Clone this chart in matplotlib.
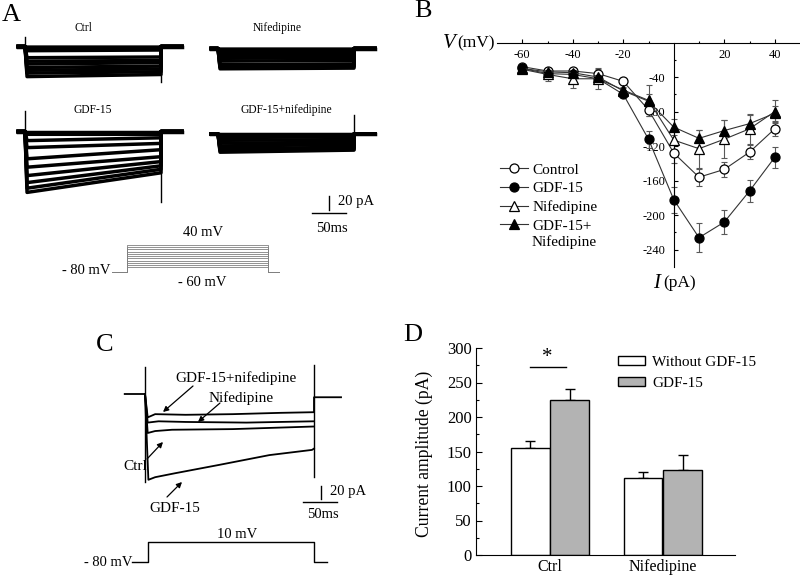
import numpy as np
import matplotlib
matplotlib.use("Agg")
import matplotlib.pyplot as plt
import matplotlib.transforms as mtransforms

plt.rcParams['font.family'] = ['Liberation Serif', 'DejaVu Serif']
plt.rcParams['axes.unicode_minus'] = False

W, H = 800, 579

# --- A: current families, one amplitude per test step (pA, inward negative)
step_mv = [-60, -50, -40, -30, -20, -10, 0, 10, 20, 30, 40]
holding_mv = -80
pulse_a_ms = 200
ctrl_on = [0, -1, -3, -6, -16, -25, -34, -43, -38, -30, -21]
ctrl_off = [0, -1, -3, -5, -15, -23, -32, -40, -36, -28, -20]
nif_on = [0, -1, -3, -6, -10, -14, -18, -23, -27, -29, -26]
nif_off = [0, -1, -3, -6, -10, -13, -17, -22, -26, -28, -25]
gdf_on = [0, -2, -4, -13, -23, -39, -63, -87, -81, -73, -51]
gdf_off = [0, -2, -4, -9, -17, -26, -43, -59, -54, -49, -36]
gdfnif_on = [0, -1, -2, -5, -9, -13, -17, -21, -24, -26, -22]
gdfnif_off = [0, -1, -2, -4, -8, -12, -15, -19, -22, -23, -20]
# capacitive artifacts at pulse on / off (pA)
ctrl_spk = (14, -51)
nif_spk = (0, 0)
gdf_spk = (30, -100)
gdfnif_spk = (0, 27)

# --- B: I-V relation
iv_mv = [-60, -50, -40, -30, -20, -10, 0, 10, 20, 30, 40]
iv_ctrl = [-28, -33, -33, -36, -45, -78, -128, -156, -147, -127, -100]
iv_ctrl_err = [2, 3, 4, 5, 3, 7, 12, 10, 8.5, 8, 8.5]
iv_gdf = [-30, -36, -37, -42, -60, -112, -182, -226, -208, -172, -133]
iv_gdf_err = [2, 3, 3, 3, 3, 10, 15, 17, 14, 13, 12]
iv_nif = [-31, -37, -42, -42, -55, -67, -113, -123, -112, -100, -80]
iv_nif_err = [2, 8, 11, 12, 3, 18, 12, 22, 22, 17, 13]
iv_gdfnif = [-30, -34, -35, -40, -56, -68, -98, -111, -102, -94, -82]
iv_gdfnif_err = [2, 3, 3, 4, 3, 8, 9, 10, 12, 10, 9]

# --- C: single traces at 10 mV (ms, pA)
pulse_c_ms = 250
test_c_mv = 10
c_t_gdfnif = [-30, 0, 4, 15, 60, 130, 200, 250, 250, 290]
c_i_gdfnif = [0, 0, -36, -31, -32, -31, -29, -28, -5, -5]
c_t_nif = [0, 4, 20, 60, 150, 250]
c_i_nif = [0, -44, -42, -43, -44, -42]
c_t_ctrl = [0, 4, 15, 40, 130, 250]
c_i_ctrl = [0, -60, -57, -55, -54, -50]
c_t_gdf = [0, 5, 15, 44, 110, 184, 247, 250]
c_i_gdf = [0, -132, -128, -122, -109, -94, -86, -84]
c_spk_on = (42, -135)
c_spk_off = (45, -128)

# --- D: current amplitude
groups = ["Ctrl", "Nifedipine"]
amp_without = [155, 111]
amp_without_err = [10, 9]
amp_gdf = [225, 123]
amp_gdf_err = [16, 22]
sig_height = 272

fig = plt.figure(figsize=(W / 100, H / 100), dpi=100)
canvas = fig.add_axes([0, 0, 1, 1])
canvas.set_xlim(0, W)
canvas.set_ylim(H, 0)
canvas.axis("off")


def px_rect(x0, y0, x1, y1):
    return [x0 / W, 1 - y1 / H, (x1 - x0) / W, (y1 - y0) / H]


def scaled(x0, y0, sx, sy):
    # ms and pA (or mV) -> canvas pixels, origin at (x0, y0)
    return mtransforms.Affine2D().scale(sx, -sy).translate(x0, y0) + canvas.transData


# ================= A =================
canvas.text(11, 15, "A", fontsize=19, ha="center", va="center")
a_sets = {
    "Ctrl": (ctrl_on, ctrl_off, ctrl_spk, 25, 46.5, 83, 28),
    "Nifedipine": (nif_on, nif_off, nif_spk, 218, 48.5, 277, 28),
    "GDF-15": (gdf_on, gdf_off, gdf_spk, 25, 131.5, 93, 110),
    "GDF-15+nifedipine": (gdfnif_on, gdfnif_off, gdfnif_spk, 218, 134, 286, 110),
}
for name, (on, off, spk, x0, y0, tx, ty) in a_sets.items():
    tf = scaled(x0, y0, 0.68, 0.7)
    for i_on, i_off in zip(on, off):
        canvas.plot([-10, 0, 3, pulse_a_ms, pulse_a_ms, pulse_a_ms + 31],
                    [0, 0, i_on, i_off, 0, 0], transform=tf, color="k", lw=2.5)
    if spk[0]:
        canvas.plot([0, 0], [0, spk[0]], transform=tf, color="k", lw=1)
    if spk[1]:
        canvas.plot([pulse_a_ms, pulse_a_ms], [0, spk[1]], transform=tf, color="k", lw=1)
    canvas.text(tx, ty, name, fontsize=8.3, ha="center", va="center")

# scale bar A
sb = scaled(312, 213, 0.68, 0.7)
canvas.plot([0, 50], [0, 0], transform=sb, color="k", lw=1)
canvas.plot([25, 25], [4, 24], transform=sb, color="k", lw=1)
canvas.text(338, 202, "20 pA", fontsize=10.5, va="center")
canvas.text(316, 228, "50ms", fontsize=10.5, va="center")

# voltage protocol A
pa = scaled(126.7, 253.9, 0.7065, 0.2225)
for v in step_mv:
    canvas.plot([-21, 0, 0, pulse_a_ms, pulse_a_ms, 216],
                [holding_mv, holding_mv, v, v, holding_mv, holding_mv],
                transform=pa, color="0.5", lw=0.6)
canvas.text(110, 271, "- 80 mV", fontsize=10.5, ha="right", va="center")
canvas.text(203, 233, "40 mV", fontsize=10.5, ha="center", va="center")
canvas.text(202, 283, "- 60 mV", fontsize=10.5, ha="center", va="center")

# ================= B =================
canvas.text(423, 11, "B", fontsize=19, ha="center", va="center")
ax_b = fig.add_axes(px_rect(497, 42.5, 800, 267))
ax_b.set_facecolor("none")
ax_b.set_xlim(-70, 50)
ax_b.set_ylim(-260, 0)
ax_b.spines["bottom"].set_position(("data", 0))
ax_b.spines["left"].set_position(("data", 0))
ax_b.spines["top"].set_visible(False)
ax_b.spines["right"].set_visible(False)
ax_b.set_xticks([-60, -40, -20, 20, 40])
ax_b.set_yticks([-40, -80, -120, -160, -200, -240])
ax_b.set_xticks([-50, -30, -10, 10, 30], minor=True)
ax_b.set_yticks([-20, -60, -100, -140, -180, -220], minor=True)
ax_b.tick_params(which="both", direction="in", labelsize=9, width=0.8)
ax_b.tick_params(which="major", length=3, pad=6)
ax_b.tick_params(which="minor", length=1.5)
ax_b.tick_params(axis="x", pad=5)

series = [
    ("Control", iv_ctrl, iv_ctrl_err, "o", "white"),
    ("GDF-15", iv_gdf, iv_gdf_err, "o", "black"),
    ("Nifedipine", iv_nif, iv_nif_err, "^", "white"),
    ("GDF-15+", iv_gdfnif, iv_gdfnif_err, "^", "black"),
]
handles = []
for label, y, e, mk, fc in series:
    ax_b.errorbar(iv_mv, y, yerr=e, fmt="none", ecolor="0.35", elinewidth=0.8,
                  capsize=2, capthick=0.8, zorder=2)
    ln, = ax_b.plot(iv_mv, y, color="0.2", lw=0.8, marker=mk, ms=6.5,
                    mfc=fc, mec="black", mew=0.9, label=label, zorder=3)
    handles.append(ln)
ax_b.legend(handles=handles, loc="upper left", frameon=False, fontsize=11,
            bbox_to_anchor=(500 / W, 1 - 163 / H), bbox_transform=fig.transFigure,
            borderpad=0, borderaxespad=0, labelspacing=0.32,
            handlelength=1.8, handletextpad=0.3)
canvas.text(532, 242, "Nifedipine", fontsize=11, ha="left", va="center")

canvas.text(449, 43, "V", fontsize=15, fontstyle="italic", ha="center", va="center")
canvas.text(457, 43, "(mV)", fontsize=12.5, ha="left", va="center")
canvas.text(657, 283, "I", fontsize=15, fontstyle="italic", ha="center", va="center")
canvas.text(663, 283, "(pA)", fontsize=12.5, ha="left", va="center")

# ================= C =================
canvas.text(105, 345, "C", fontsize=19, ha="center", va="center")
tc = scaled(145, 394, 0.676, 0.65)
for tt, ii in [(c_t_gdfnif, c_i_gdfnif), (c_t_nif, c_i_nif),
               (c_t_ctrl, c_i_ctrl), (c_t_gdf, c_i_gdf)]:
    canvas.plot(tt, ii, transform=tc, color="k", lw=1.3)
canvas.plot([0, 0], list(c_spk_on), transform=tc, color="k", lw=1)
canvas.plot([pulse_c_ms, pulse_c_ms], list(c_spk_off), transform=tc, color="k", lw=1)

arrow = dict(arrowstyle="-|>", color="k", lw=0.9, mutation_scale=8, shrinkA=0, shrinkB=0)
canvas.text(236, 378, "GDF-15+nifedipine", fontsize=11, ha="center", va="center")
canvas.annotate("", xy=(163, 412), xytext=(193, 386), arrowprops=arrow)
canvas.text(241, 398, "Nifedipine", fontsize=11, ha="center", va="center")
canvas.annotate("", xy=(198, 422), xytext=(220, 403), arrowprops=arrow)
canvas.text(135, 467, "Ctrl", fontsize=11, ha="center", va="center")
canvas.annotate("", xy=(163, 442), xytext=(147, 459), arrowprops=arrow)
canvas.text(175, 508, "GDF-15", fontsize=11, ha="center", va="center")
canvas.annotate("", xy=(182, 482), xytext=(167, 497), arrowprops=arrow)

sc = scaled(303, 502, 0.676, 0.65)
canvas.plot([0, 50], [0, 0], transform=sc, color="k", lw=1)
canvas.plot([26, 26], [4.5, 24.5], transform=sc, color="k", lw=1)
canvas.text(330, 492, "20 pA", fontsize=10.5, va="center")
canvas.text(307, 515, "50ms", fontsize=10.5, va="center")

pc = scaled(147.5, 544.2, 0.664, 0.222)
canvas.plot([-23, 0, 0, pulse_c_ms, pulse_c_ms, 270],
            [holding_mv, holding_mv, test_c_mv, test_c_mv, holding_mv, holding_mv],
            transform=pc, color="k", lw=1)
canvas.text(132, 562, "- 80 mV", fontsize=10.5, ha="right", va="center")
canvas.text(237, 535, "10 mV", fontsize=10.5, ha="center", va="center")

# ================= D =================
canvas.text(413, 335, "D", fontsize=19, ha="center", va="center")
ax_d = fig.add_axes(px_rect(476, 348, 735, 555))
ax_d.set_facecolor("none")
x = np.arange(1, len(groups) + 1)
bw = 0.345
ax_d.bar(x - 0.175, amp_without, bw, color="white", edgecolor="black", lw=1,
         label="Without GDF-15", zorder=2)
ax_d.bar(x + 0.175, amp_gdf, bw, color="#b3b3b3", edgecolor="black", lw=1,
         label="GDF-15", zorder=2)
ax_d.errorbar(x - 0.175, amp_without, yerr=[[0, 0], amp_without_err], fmt="none",
              ecolor="black", elinewidth=1, capsize=3.6, capthick=1, zorder=1)
ax_d.errorbar(x + 0.175, amp_gdf, yerr=[[0, 0], amp_gdf_err], fmt="none",
              ecolor="black", elinewidth=1, capsize=3.6, capthick=1, zorder=1)
ax_d.plot([x[0] - 0.175, x[0] + 0.142], [sig_height, sig_height], color="black", lw=1)
ax_d.text(x[0] - 0.02, sig_height + 1, "*", fontsize=15, ha="center", va="bottom")
ax_d.set_xlim(0.345, 2.64)
ax_d.set_ylim(0, 300)
ax_d.spines["top"].set_visible(False)
ax_d.spines["right"].set_visible(False)
ax_d.set_xticks(x)
ax_d.set_xticklabels(groups, fontsize=11.5)
ax_d.set_yticks(range(0, 301, 50))
ax_d.set_yticks(range(25, 300, 50), minor=True)
ax_d.tick_params(which="both", direction="in", labelsize=12, width=0.8)
ax_d.tick_params(axis="y", which="major", length=4, pad=3)
ax_d.tick_params(axis="y", which="minor", length=2)
ax_d.tick_params(axis="x", length=3, pad=3, labelsize=11.5)
ax_d.set_ylabel("Current amplitude (pA)", fontsize=12.7)
ax_d.yaxis.set_label_coords(-0.166, 0.49)
ax_d.legend(loc="upper left", frameon=False, fontsize=11,
            bbox_to_anchor=(618 / W, 1 - 356 / H), bbox_transform=fig.transFigure,
            borderpad=0, borderaxespad=0, labelspacing=0.5,
            handlelength=1.77, handleheight=0.55, handletextpad=0.45)

fig.savefig("out.png", dpi=100)
